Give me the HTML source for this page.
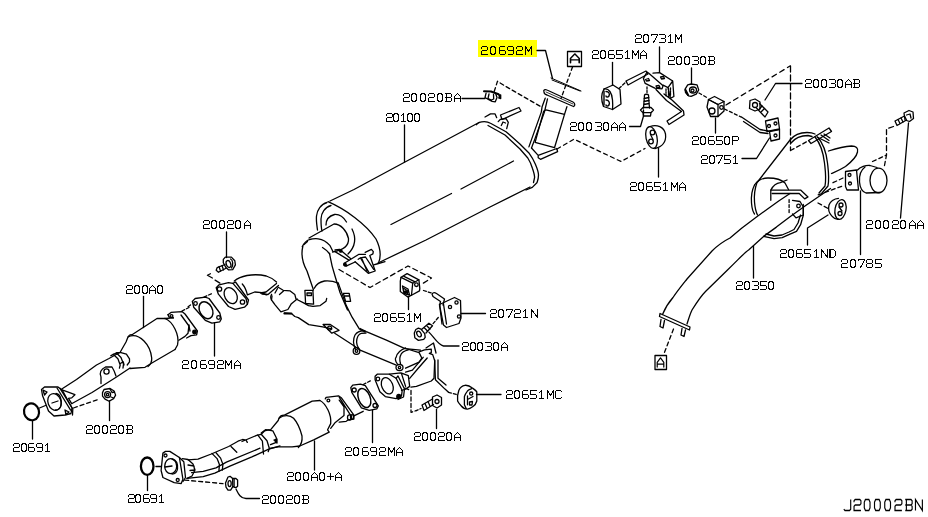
<!DOCTYPE html>
<html><head><meta charset="utf-8"><style>
html,body{margin:0;padding:0;background:#fff;}
svg{display:block;}
</style></head><body>
<svg width="928" height="517" viewBox="0 0 928 517">
<rect x="478" y="40" width="59" height="17" fill="#ffff00"/>
<g fill="none" stroke="#000" stroke-width="1" stroke-linejoin="miter" stroke-linecap="square" shape-rendering="crispEdges">
<path transform="translate(481.50,46.50) scale(1.000)" d="M0,2V1L1,0H5L6,1V3L5,4H1L0,5V8H6"/>
<path transform="translate(490.50,46.50) scale(1.000)" d="M1,0H4L5,2V6L4,8H1L0,6V2Z"/>
<path transform="translate(499.50,46.50) scale(1.000)" d="M5,0H1L0,1V7L1,8H5L6,7V5L5,4H0"/>
<path transform="translate(507.50,46.50) scale(1.000)" d="M6,4H1L0,3V1L1,0H5L6,1V7L5,8H1"/>
<path transform="translate(516.50,46.50) scale(1.000)" d="M0,2V1L1,0H5L6,1V3L5,4H1L0,5V8H6"/>
<path transform="translate(525.50,46.50) scale(1.000)" d="M0,8V0L3,5L6,0V8"/>
<path transform="translate(592.50,50.50) scale(1.000)" d="M0,2V1L1,0H5L6,1V3L5,4H1L0,5V8H6"/>
<path transform="translate(600.50,50.50) scale(1.000)" d="M1,0H4L5,2V6L4,8H1L0,6V2Z"/>
<path transform="translate(608.50,50.50) scale(1.000)" d="M5,0H1L0,1V7L1,8H5L6,7V5L5,4H0"/>
<path transform="translate(616.50,50.50) scale(1.000)" d="M6,0H0V4H5L6,5V7L5,8H0"/>
<path transform="translate(624.50,50.50) scale(1.000)" d="M1,2L3,0V8M1,8H5"/>
<path transform="translate(632.50,50.50) scale(1.000)" d="M0,8V0L3,5L6,0V8"/>
<path transform="translate(640.50,50.50) scale(1.000)" d="M0,8V3L3,0L6,3V8M0,5H6"/>
<path transform="translate(635.50,34.50) scale(1.000)" d="M0,2V1L1,0H5L6,1V3L5,4H1L0,5V8H6"/>
<path transform="translate(643.50,34.50) scale(1.000)" d="M1,0H4L5,2V6L4,8H1L0,6V2Z"/>
<path transform="translate(651.50,34.50) scale(1.000)" d="M0,1V0H6V1L2,8"/>
<path transform="translate(659.50,34.50) scale(1.000)" d="M0,0H5L6,1V3L5,4H2M5,4L6,5V7L5,8H0"/>
<path transform="translate(667.50,34.50) scale(1.000)" d="M1,2L3,0V8M1,8H5"/>
<path transform="translate(675.50,34.50) scale(1.000)" d="M0,8V0L3,5L6,0V8"/>
<path transform="translate(668.50,56.50) scale(1.000)" d="M0,2V1L1,0H5L6,1V3L5,4H1L0,5V8H6"/>
<path transform="translate(676.50,56.50) scale(1.000)" d="M1,0H4L5,2V6L4,8H1L0,6V2Z"/>
<path transform="translate(684.50,56.50) scale(1.000)" d="M1,0H4L5,2V6L4,8H1L0,6V2Z"/>
<path transform="translate(692.50,56.50) scale(1.000)" d="M0,0H5L6,1V3L5,4H2M5,4L6,5V7L5,8H0"/>
<path transform="translate(700.50,56.50) scale(1.000)" d="M1,0H4L5,2V6L4,8H1L0,6V2Z"/>
<path transform="translate(708.50,56.50) scale(1.000)" d="M0,0H5L6,1V3L5,4H0M5,4L6,5V7L5,8H0M1,0V8"/>
<path transform="translate(805.50,79.50) scale(1.000)" d="M0,2V1L1,0H5L6,1V3L5,4H1L0,5V8H6"/>
<path transform="translate(813.50,79.50) scale(1.000)" d="M1,0H4L5,2V6L4,8H1L0,6V2Z"/>
<path transform="translate(821.50,79.50) scale(1.000)" d="M1,0H4L5,2V6L4,8H1L0,6V2Z"/>
<path transform="translate(829.50,79.50) scale(1.000)" d="M0,0H5L6,1V3L5,4H2M5,4L6,5V7L5,8H0"/>
<path transform="translate(837.50,79.50) scale(1.000)" d="M1,0H4L5,2V6L4,8H1L0,6V2Z"/>
<path transform="translate(845.50,79.50) scale(1.000)" d="M0,8V3L3,0L6,3V8M0,5H6"/>
<path transform="translate(853.50,79.50) scale(1.000)" d="M0,0H5L6,1V3L5,4H0M5,4L6,5V7L5,8H0M1,0V8"/>
<path transform="translate(403.50,93.50) scale(1.000)" d="M0,2V1L1,0H5L6,1V3L5,4H1L0,5V8H6"/>
<path transform="translate(411.50,93.50) scale(1.000)" d="M1,0H4L5,2V6L4,8H1L0,6V2Z"/>
<path transform="translate(420.50,93.50) scale(1.000)" d="M1,0H4L5,2V6L4,8H1L0,6V2Z"/>
<path transform="translate(428.50,93.50) scale(1.000)" d="M0,2V1L1,0H5L6,1V3L5,4H1L0,5V8H6"/>
<path transform="translate(437.50,93.50) scale(1.000)" d="M1,0H4L5,2V6L4,8H1L0,6V2Z"/>
<path transform="translate(445.50,93.50) scale(1.000)" d="M0,0H5L6,1V3L5,4H0M5,4L6,5V7L5,8H0M1,0V8"/>
<path transform="translate(454.50,93.50) scale(1.000)" d="M0,8V3L3,0L6,3V8M0,5H6"/>
<path transform="translate(386.50,113.50) scale(1.000)" d="M0,2V1L1,0H5L6,1V3L5,4H1L0,5V8H6"/>
<path transform="translate(393.50,113.50) scale(1.000)" d="M1,0H4L5,2V6L4,8H1L0,6V2Z"/>
<path transform="translate(400.50,113.50) scale(1.000)" d="M1,2L3,0V8M1,8H5"/>
<path transform="translate(407.50,113.50) scale(1.000)" d="M1,0H4L5,2V6L4,8H1L0,6V2Z"/>
<path transform="translate(414.50,113.50) scale(1.000)" d="M1,0H4L5,2V6L4,8H1L0,6V2Z"/>
<path transform="translate(570.50,122.50) scale(1.000)" d="M0,2V1L1,0H5L6,1V3L5,4H1L0,5V8H6"/>
<path transform="translate(578.50,122.50) scale(1.000)" d="M1,0H4L5,2V6L4,8H1L0,6V2Z"/>
<path transform="translate(586.50,122.50) scale(1.000)" d="M1,0H4L5,2V6L4,8H1L0,6V2Z"/>
<path transform="translate(595.50,122.50) scale(1.000)" d="M0,0H5L6,1V3L5,4H2M5,4L6,5V7L5,8H0"/>
<path transform="translate(603.50,122.50) scale(1.000)" d="M1,0H4L5,2V6L4,8H1L0,6V2Z"/>
<path transform="translate(611.50,122.50) scale(1.000)" d="M0,8V3L3,0L6,3V8M0,5H6"/>
<path transform="translate(619.50,122.50) scale(1.000)" d="M0,8V3L3,0L6,3V8M0,5H6"/>
<path transform="translate(692.50,136.50) scale(1.000)" d="M0,2V1L1,0H5L6,1V3L5,4H1L0,5V8H6"/>
<path transform="translate(700.50,136.50) scale(1.000)" d="M1,0H4L5,2V6L4,8H1L0,6V2Z"/>
<path transform="translate(708.50,136.50) scale(1.000)" d="M5,0H1L0,1V7L1,8H5L6,7V5L5,4H0"/>
<path transform="translate(716.50,136.50) scale(1.000)" d="M6,0H0V4H5L6,5V7L5,8H0"/>
<path transform="translate(724.50,136.50) scale(1.000)" d="M1,0H4L5,2V6L4,8H1L0,6V2Z"/>
<path transform="translate(732.50,136.50) scale(1.000)" d="M0,8V0H5L6,1V3L5,4H0"/>
<path transform="translate(701.50,155.50) scale(1.000)" d="M0,2V1L1,0H5L6,1V3L5,4H1L0,5V8H6"/>
<path transform="translate(709.50,155.50) scale(1.000)" d="M1,0H4L5,2V6L4,8H1L0,6V2Z"/>
<path transform="translate(716.50,155.50) scale(1.000)" d="M0,1V0H6V1L2,8"/>
<path transform="translate(724.50,155.50) scale(1.000)" d="M6,0H0V4H5L6,5V7L5,8H0"/>
<path transform="translate(732.50,155.50) scale(1.000)" d="M1,2L3,0V8M1,8H5"/>
<path transform="translate(630.50,182.50) scale(1.000)" d="M0,2V1L1,0H5L6,1V3L5,4H1L0,5V8H6"/>
<path transform="translate(638.50,182.50) scale(1.000)" d="M1,0H4L5,2V6L4,8H1L0,6V2Z"/>
<path transform="translate(646.50,182.50) scale(1.000)" d="M5,0H1L0,1V7L1,8H5L6,7V5L5,4H0"/>
<path transform="translate(654.50,182.50) scale(1.000)" d="M6,0H0V4H5L6,5V7L5,8H0"/>
<path transform="translate(662.50,182.50) scale(1.000)" d="M1,2L3,0V8M1,8H5"/>
<path transform="translate(671.50,182.50) scale(1.000)" d="M0,8V0L3,5L6,0V8"/>
<path transform="translate(679.50,182.50) scale(1.000)" d="M0,8V3L3,0L6,3V8M0,5H6"/>
<path transform="translate(866.50,220.50) scale(1.000)" d="M0,2V1L1,0H5L6,1V3L5,4H1L0,5V8H6"/>
<path transform="translate(875.50,220.50) scale(1.000)" d="M1,0H4L5,2V6L4,8H1L0,6V2Z"/>
<path transform="translate(883.50,220.50) scale(1.000)" d="M1,0H4L5,2V6L4,8H1L0,6V2Z"/>
<path transform="translate(892.50,220.50) scale(1.000)" d="M0,2V1L1,0H5L6,1V3L5,4H1L0,5V8H6"/>
<path transform="translate(900.50,220.50) scale(1.000)" d="M1,0H4L5,2V6L4,8H1L0,6V2Z"/>
<path transform="translate(909.50,220.50) scale(1.000)" d="M0,8V3L3,0L6,3V8M0,5H6"/>
<path transform="translate(917.50,220.50) scale(1.000)" d="M0,8V3L3,0L6,3V8M0,5H6"/>
<path transform="translate(203.50,220.50) scale(1.000)" d="M0,2V1L1,0H5L6,1V3L5,4H1L0,5V8H6"/>
<path transform="translate(211.50,220.50) scale(1.000)" d="M1,0H4L5,2V6L4,8H1L0,6V2Z"/>
<path transform="translate(219.50,220.50) scale(1.000)" d="M1,0H4L5,2V6L4,8H1L0,6V2Z"/>
<path transform="translate(227.50,220.50) scale(1.000)" d="M0,2V1L1,0H5L6,1V3L5,4H1L0,5V8H6"/>
<path transform="translate(235.50,220.50) scale(1.000)" d="M1,0H4L5,2V6L4,8H1L0,6V2Z"/>
<path transform="translate(244.50,220.50) scale(1.000)" d="M0,8V3L3,0L6,3V8M0,5H6"/>
<path transform="translate(780.50,249.50) scale(1.000)" d="M0,2V1L1,0H5L6,1V3L5,4H1L0,5V8H6"/>
<path transform="translate(788.50,249.50) scale(1.000)" d="M1,0H4L5,2V6L4,8H1L0,6V2Z"/>
<path transform="translate(796.50,249.50) scale(1.000)" d="M5,0H1L0,1V7L1,8H5L6,7V5L5,4H0"/>
<path transform="translate(804.50,249.50) scale(1.000)" d="M6,0H0V4H5L6,5V7L5,8H0"/>
<path transform="translate(813.50,249.50) scale(1.000)" d="M1,2L3,0V8M1,8H5"/>
<path transform="translate(821.50,249.50) scale(1.000)" d="M0,8V0L6,8V0"/>
<path transform="translate(829.50,249.50) scale(1.000)" d="M0,0H4L6,2V6L4,8H0ZM1,0V8"/>
<path transform="translate(841.50,259.50) scale(1.000)" d="M0,2V1L1,0H5L6,1V3L5,4H1L0,5V8H6"/>
<path transform="translate(850.50,259.50) scale(1.000)" d="M1,0H4L5,2V6L4,8H1L0,6V2Z"/>
<path transform="translate(858.50,259.50) scale(1.000)" d="M0,1V0H6V1L2,8"/>
<path transform="translate(866.50,259.50) scale(1.000)" d="M1,0H5L6,1V3L5,4H1L0,3V1ZM1,4L0,5V7L1,8H5L6,7V5L5,4"/>
<path transform="translate(875.50,259.50) scale(1.000)" d="M6,0H0V4H5L6,5V7L5,8H0"/>
<path transform="translate(736.50,281.50) scale(1.000)" d="M0,2V1L1,0H5L6,1V3L5,4H1L0,5V8H6"/>
<path transform="translate(744.50,281.50) scale(1.000)" d="M1,0H4L5,2V6L4,8H1L0,6V2Z"/>
<path transform="translate(752.50,281.50) scale(1.000)" d="M0,0H5L6,1V3L5,4H2M5,4L6,5V7L5,8H0"/>
<path transform="translate(760.50,281.50) scale(1.000)" d="M6,0H0V4H5L6,5V7L5,8H0"/>
<path transform="translate(768.50,281.50) scale(1.000)" d="M1,0H4L5,2V6L4,8H1L0,6V2Z"/>
<path transform="translate(126.50,285.50) scale(1.000)" d="M0,2V1L1,0H5L6,1V3L5,4H1L0,5V8H6"/>
<path transform="translate(134.50,285.50) scale(1.000)" d="M1,0H4L5,2V6L4,8H1L0,6V2Z"/>
<path transform="translate(142.50,285.50) scale(1.000)" d="M1,0H4L5,2V6L4,8H1L0,6V2Z"/>
<path transform="translate(149.50,285.50) scale(1.000)" d="M0,8V3L3,0L6,3V8M0,5H6"/>
<path transform="translate(157.50,285.50) scale(1.000)" d="M1,0H4L5,2V6L4,8H1L0,6V2Z"/>
<path transform="translate(374.50,313.50) scale(1.000)" d="M0,2V1L1,0H5L6,1V3L5,4H1L0,5V8H6"/>
<path transform="translate(382.50,313.50) scale(1.000)" d="M1,0H4L5,2V6L4,8H1L0,6V2Z"/>
<path transform="translate(390.50,313.50) scale(1.000)" d="M5,0H1L0,1V7L1,8H5L6,7V5L5,4H0"/>
<path transform="translate(398.50,313.50) scale(1.000)" d="M6,0H0V4H5L6,5V7L5,8H0"/>
<path transform="translate(406.50,313.50) scale(1.000)" d="M1,2L3,0V8M1,8H5"/>
<path transform="translate(414.50,313.50) scale(1.000)" d="M0,8V0L3,5L6,0V8"/>
<path transform="translate(490.50,309.50) scale(1.000)" d="M0,2V1L1,0H5L6,1V3L5,4H1L0,5V8H6"/>
<path transform="translate(498.50,309.50) scale(1.000)" d="M1,0H4L5,2V6L4,8H1L0,6V2Z"/>
<path transform="translate(506.50,309.50) scale(1.000)" d="M0,1V0H6V1L2,8"/>
<path transform="translate(514.50,309.50) scale(1.000)" d="M0,2V1L1,0H5L6,1V3L5,4H1L0,5V8H6"/>
<path transform="translate(522.50,309.50) scale(1.000)" d="M1,2L3,0V8M1,8H5"/>
<path transform="translate(531.50,309.50) scale(1.000)" d="M0,8V0L6,8V0"/>
<path transform="translate(462.50,342.50) scale(1.000)" d="M0,2V1L1,0H5L6,1V3L5,4H1L0,5V8H6"/>
<path transform="translate(470.50,342.50) scale(1.000)" d="M1,0H4L5,2V6L4,8H1L0,6V2Z"/>
<path transform="translate(477.50,342.50) scale(1.000)" d="M1,0H4L5,2V6L4,8H1L0,6V2Z"/>
<path transform="translate(485.50,342.50) scale(1.000)" d="M0,0H5L6,1V3L5,4H2M5,4L6,5V7L5,8H0"/>
<path transform="translate(493.50,342.50) scale(1.000)" d="M1,0H4L5,2V6L4,8H1L0,6V2Z"/>
<path transform="translate(501.50,342.50) scale(1.000)" d="M0,8V3L3,0L6,3V8M0,5H6"/>
<path transform="translate(182.50,360.50) scale(1.000)" d="M0,2V1L1,0H5L6,1V3L5,4H1L0,5V8H6"/>
<path transform="translate(191.50,360.50) scale(1.000)" d="M1,0H4L5,2V6L4,8H1L0,6V2Z"/>
<path transform="translate(200.50,360.50) scale(1.000)" d="M5,0H1L0,1V7L1,8H5L6,7V5L5,4H0"/>
<path transform="translate(208.50,360.50) scale(1.000)" d="M6,4H1L0,3V1L1,0H5L6,1V7L5,8H1"/>
<path transform="translate(217.50,360.50) scale(1.000)" d="M0,2V1L1,0H5L6,1V3L5,4H1L0,5V8H6"/>
<path transform="translate(225.50,360.50) scale(1.000)" d="M0,8V0L3,5L6,0V8"/>
<path transform="translate(234.50,360.50) scale(1.000)" d="M0,8V3L3,0L6,3V8M0,5H6"/>
<path transform="translate(506.50,390.50) scale(1.000)" d="M0,2V1L1,0H5L6,1V3L5,4H1L0,5V8H6"/>
<path transform="translate(514.50,390.50) scale(1.000)" d="M1,0H4L5,2V6L4,8H1L0,6V2Z"/>
<path transform="translate(522.50,390.50) scale(1.000)" d="M5,0H1L0,1V7L1,8H5L6,7V5L5,4H0"/>
<path transform="translate(530.50,390.50) scale(1.000)" d="M6,0H0V4H5L6,5V7L5,8H0"/>
<path transform="translate(538.50,390.50) scale(1.000)" d="M1,2L3,0V8M1,8H5"/>
<path transform="translate(547.50,390.50) scale(1.000)" d="M0,8V0L3,5L6,0V8"/>
<path transform="translate(555.50,390.50) scale(1.000)" d="M6,1L5,0H1L0,1V7L1,8H5L6,7"/>
<path transform="translate(86.50,425.50) scale(1.000)" d="M0,2V1L1,0H5L6,1V3L5,4H1L0,5V8H6"/>
<path transform="translate(94.50,425.50) scale(1.000)" d="M1,0H4L5,2V6L4,8H1L0,6V2Z"/>
<path transform="translate(102.50,425.50) scale(1.000)" d="M1,0H4L5,2V6L4,8H1L0,6V2Z"/>
<path transform="translate(110.50,425.50) scale(1.000)" d="M0,2V1L1,0H5L6,1V3L5,4H1L0,5V8H6"/>
<path transform="translate(118.50,425.50) scale(1.000)" d="M1,0H4L5,2V6L4,8H1L0,6V2Z"/>
<path transform="translate(126.50,425.50) scale(1.000)" d="M0,0H5L6,1V3L5,4H0M5,4L6,5V7L5,8H0M1,0V8"/>
<path transform="translate(13.50,443.50) scale(1.000)" d="M0,2V1L1,0H5L6,1V3L5,4H1L0,5V8H6"/>
<path transform="translate(21.50,443.50) scale(1.000)" d="M1,0H4L5,2V6L4,8H1L0,6V2Z"/>
<path transform="translate(28.50,443.50) scale(1.000)" d="M5,0H1L0,1V7L1,8H5L6,7V5L5,4H0"/>
<path transform="translate(36.50,443.50) scale(1.000)" d="M6,4H1L0,3V1L1,0H5L6,1V7L5,8H1"/>
<path transform="translate(44.50,443.50) scale(1.000)" d="M1,2L3,0V8M1,8H5"/>
<path transform="translate(345.50,447.50) scale(1.000)" d="M0,2V1L1,0H5L6,1V3L5,4H1L0,5V8H6"/>
<path transform="translate(353.50,447.50) scale(1.000)" d="M1,0H4L5,2V6L4,8H1L0,6V2Z"/>
<path transform="translate(362.50,447.50) scale(1.000)" d="M5,0H1L0,1V7L1,8H5L6,7V5L5,4H0"/>
<path transform="translate(370.50,447.50) scale(1.000)" d="M6,4H1L0,3V1L1,0H5L6,1V7L5,8H1"/>
<path transform="translate(379.50,447.50) scale(1.000)" d="M0,2V1L1,0H5L6,1V3L5,4H1L0,5V8H6"/>
<path transform="translate(388.50,447.50) scale(1.000)" d="M0,8V0L3,5L6,0V8"/>
<path transform="translate(396.50,447.50) scale(1.000)" d="M0,8V3L3,0L6,3V8M0,5H6"/>
<path transform="translate(414.50,432.50) scale(1.000)" d="M0,2V1L1,0H5L6,1V3L5,4H1L0,5V8H6"/>
<path transform="translate(422.50,432.50) scale(1.000)" d="M1,0H4L5,2V6L4,8H1L0,6V2Z"/>
<path transform="translate(430.50,432.50) scale(1.000)" d="M1,0H4L5,2V6L4,8H1L0,6V2Z"/>
<path transform="translate(438.50,432.50) scale(1.000)" d="M0,2V1L1,0H5L6,1V3L5,4H1L0,5V8H6"/>
<path transform="translate(446.50,432.50) scale(1.000)" d="M1,0H4L5,2V6L4,8H1L0,6V2Z"/>
<path transform="translate(454.50,432.50) scale(1.000)" d="M0,8V3L3,0L6,3V8M0,5H6"/>
<path transform="translate(287.50,472.50) scale(1.000)" d="M0,2V1L1,0H5L6,1V3L5,4H1L0,5V8H6"/>
<path transform="translate(295.50,472.50) scale(1.000)" d="M1,0H4L5,2V6L4,8H1L0,6V2Z"/>
<path transform="translate(303.50,472.50) scale(1.000)" d="M1,0H4L5,2V6L4,8H1L0,6V2Z"/>
<path transform="translate(311.50,472.50) scale(1.000)" d="M0,8V3L3,0L6,3V8M0,5H6"/>
<path transform="translate(319.50,472.50) scale(1.000)" d="M1,0H4L5,2V6L4,8H1L0,6V2Z"/>
<path transform="translate(327.50,472.50) scale(1.000)" d="M0,4H6M3,1V7"/>
<path transform="translate(335.50,472.50) scale(1.000)" d="M0,8V3L3,0L6,3V8M0,5H6"/>
<path transform="translate(128.50,494.50) scale(1.000)" d="M0,2V1L1,0H5L6,1V3L5,4H1L0,5V8H6"/>
<path transform="translate(135.50,494.50) scale(1.000)" d="M1,0H4L5,2V6L4,8H1L0,6V2Z"/>
<path transform="translate(143.50,494.50) scale(1.000)" d="M5,0H1L0,1V7L1,8H5L6,7V5L5,4H0"/>
<path transform="translate(150.50,494.50) scale(1.000)" d="M6,4H1L0,3V1L1,0H5L6,1V7L5,8H1"/>
<path transform="translate(158.50,494.50) scale(1.000)" d="M1,2L3,0V8M1,8H5"/>
<path transform="translate(262.50,495.50) scale(1.000)" d="M0,2V1L1,0H5L6,1V3L5,4H1L0,5V8H6"/>
<path transform="translate(270.50,495.50) scale(1.000)" d="M1,0H4L5,2V6L4,8H1L0,6V2Z"/>
<path transform="translate(278.50,495.50) scale(1.000)" d="M1,0H4L5,2V6L4,8H1L0,6V2Z"/>
<path transform="translate(286.50,495.50) scale(1.000)" d="M0,2V1L1,0H5L6,1V3L5,4H1L0,5V8H6"/>
<path transform="translate(294.50,495.50) scale(1.000)" d="M1,0H4L5,2V6L4,8H1L0,6V2Z"/>
<path transform="translate(302.50,495.50) scale(1.000)" d="M0,0H5L6,1V3L5,4H0M5,4L6,5V7L5,8H0M1,0V8"/>
</g><g fill="none" stroke="#000" stroke-width="1"><path transform="translate(843.80,499.50) scale(1.15,1.375)" d="M6,0V7L5,8H1L0,7"/>
<path transform="translate(854.04,499.50) scale(1.15,1.375)" d="M0,2V1L1,0H5L6,1V3L5,4H1L0,5V8H6"/>
<path transform="translate(864.28,499.50) scale(1.15,1.375)" d="M1,0H4L5,2V6L4,8H1L0,6V2Z"/>
<path transform="translate(874.51,499.50) scale(1.15,1.375)" d="M1,0H4L5,2V6L4,8H1L0,6V2Z"/>
<path transform="translate(884.75,499.50) scale(1.15,1.375)" d="M1,0H4L5,2V6L4,8H1L0,6V2Z"/>
<path transform="translate(894.99,499.50) scale(1.15,1.375)" d="M0,2V1L1,0H5L6,1V3L5,4H1L0,5V8H6"/>
<path transform="translate(905.23,499.50) scale(1.15,1.375)" d="M0,0H5L6,1V3L5,4H0M5,4L6,5V7L5,8H0M1,0V8"/>
<path transform="translate(915.47,499.50) scale(1.15,1.375)" d="M0,8V0L6,8V0"/>
</g>
<g fill="none" stroke="#000" stroke-width="1.3" stroke-linecap="round" stroke-linejoin="round">
<!-- leaders -->
<path d="M537,50.5H545.5L552.5,78.5"/>
<path d="M612.5,62.5V85"/>
<path d="M659.5,47V72"/>
<path d="M691.5,68V84"/>
<path d="M802,83.5H775.5L765,100"/>
<path d="M462,98.5H485"/>
<path d="M404.5,125V162"/>
<path d="M629.5,126.5H640.5L643.5,116V110"/>
<path d="M715.5,118V133"/>
<path d="M742,158.5H756.5L769.5,138"/>
<path d="M658.5,148.5V177"/>
<path d="M908.5,123L900.5,218"/>
<path d="M226.5,232V257.5"/>
<path d="M807.5,245V228L828,215"/>
<path d="M860.5,191V254.5"/>
<path d="M753.5,246V278"/>
<path d="M143.5,296.5V327.5"/>
<path d="M408.5,297V309.5"/>
<path d="M461,313.5H485.5"/>
<path d="M428.9,332.1C434,337 438,345 443.5,346H459"/>
<path d="M214.5,323V356"/>
<path d="M476.5,394.5H501"/>
<path d="M109.5,401V420.5"/>
<path d="M32.5,420.5V439"/>
<path d="M372.5,410.5V442.5"/>
<path d="M436.5,409.5V428.5"/>
<path d="M314.5,441V470"/>
<path d="M147.5,475V490.5"/>
<path d="M236,489C238,493 240,498.5 246,498.5H259.5"/>
<!-- A boxes -->
<rect x="567.5" y="51.5" width="14" height="15"/>
<path transform="translate(570.5,53.8) scale(1.45,1.12)" d="M0,8V4L3,0L6,4V8M0,5.5H6" stroke-width="1.1"/>
<rect x="655" y="355.5" width="11.5" height="14"/>
<path transform="translate(657.2,357.8) scale(1.1,1.15)" d="M0,8V4L3,0L6,4V8M0,5.5H6" stroke-width="1.1"/>
<!-- main muffler 20100 -->
<path d="M330,201 L354,189.5 L405,162 L450,138 L479,122.5"/>
<path d="M378,263 L426,240 L490,207 L530,187"/>
<path d="M391,224.5 L451.5,193.5 M461,189 L513.5,161" />
<path d="M328,201.7 C345,209 366,224 376,239 C381,249 381,257 378.5,263"/>
<path d="M327,202.5 C321,204 317,210 316.5,216 C316,221 317,226 317.5,230"/>
<path d="M331,205.5 C325,207 321,213 321,219 C321,224 321,227 322,231"/>
<path d="M326,225 C326,220 329,216 334.5,214.5 C340,214 344,218 346.5,222"/>
<path d="M352,229 C356,237 356,246 348,254"/>
<path d="M309,238 L334,224 C341,224 347,231 348.5,238.5 C349,245 344,250 332.5,252"/>
<path d="M302.2,246.7 C304,243 306.5,240.5 309.5,239.5 C312,238.8 315,238.6 318.2,238.8 C323,239.5 327,242 329.8,245.3 L332.7,251"/>
<path d="M304,244.5 L307.5,241.5 M322.5,247.5 C325,249 327.5,251 329.8,254"/>
<path d="M302.8,246.5 C301,254 302,262 307,271 L313.5,290"/>
<path d="M329.5,253.5 C331,262 333,270 335,276 L340,292.5 L347.5,310"/>
<!-- muffler hanger -->
<path d="M344.3,263.2 L359,254.3 L365.5,254.3 M346.6,265.9 L355.1,262"/>
<path d="M344.3,263.2 C343.5,264.5 344.5,266.5 346.6,265.9"/>
<circle cx="345" cy="264.6" r="1.3" fill="#000"/>
<path d="M365.2,252.4 L371.4,249.3 L373.3,251.6 L372.9,253.9 L369.8,255.5 L375.2,271 L368.3,273.3 L355.1,261.7"/>
<path d="M358.2,259.3 L360.5,257.8 L369,272.5 M360.5,257.8 L365.5,257 L373.7,269.4 M362,259 L367,271"/>
<path d="M373.7,264.8 L376.8,264 L385,261.7"/>
<path d="M335,250 L339.6,249.3 L350.5,258.6 M335,251.6 L348.9,260.1"/>
<circle cx="340.8" cy="251" r="1.2" fill="#000"/>
<path d="M339,269.5 L370,287.5 L408,266 L431.5,278 L422,284" stroke-dasharray="5,3.5"/>
<!-- mount 20651M -->
<path d="M401,277.3 L407.1,273.6 L418.9,279.8 L412.7,283.2 Z M404,276.4 L414.6,281.6"/>
<path d="M401,277.3 L400.3,281 L400.3,291.5 L407.8,297.1 L411.5,295.2 L412.7,283.2"/>
<path d="M418.9,279.8 L419.8,288.4 L419.5,290.9 L411.5,295.2"/>
<path d="M402.5,286 L408,289 L409.5,295 L404,293.5 Z M404,288.5 L407,290.5 L407.5,293"/>
<circle cx="405.5" cy="292" r="1.2" fill="#000"/>
<circle cx="416.4" cy="284.7" r="1.8"/>
<path d="M423.5,290.5 L433,293.5" stroke-dasharray="3,2"/>
<!-- muffler outlet pipe, flange, gasket -->
<path d="M544,92 C543,90 545,89 547,90 L573,102 C575,103 575.5,106 573.5,106.5 L547,95 C545,94.5 544,93 544,92 Z" stroke-width="1.3"/>
<path d="M546,92 L573,104" stroke-width="0.8"/>
<path d="M551,78 L581,91 M552,80 L580,91" stroke-width="1"/>
<path d="M572.5,67 L561,98.5" stroke-dasharray="3.5,3"/>
<path d="M545.2,98.2 L542.1,106.7 L541.3,112.1 L528.9,146.9 M547.5,98.9 L544.4,112.1 L535.1,138.4 L531.5,148"/>
<path d="M566.9,106.7 L564.5,114.4 L554.5,147.7"/>
<path d="M546,109.8 L564.5,114.4 M543.6,111.3 L546,109.8 M543.6,111.3 L535.1,142.3 L554.5,147.7"/>
<path d="M538.2,155.4 L556.8,148.5 L557.6,151.6 L540.5,159.3 L538.2,157.8 Z M531.5,148 L538.2,155.4"/>
<path d="M476.5,124.7 C478,122.5 481,121.6 484.3,121.6 C487,121.6 489,122.3 490.5,123.2 L506,131.7 L519.9,144 L529.2,153.3 C532,157 534,161 535.4,164.2 C537,168 538.5,172 538.5,175 C538.5,179 537.5,181 536.9,182.8 L532.3,187.4 L526,190"/>
<path d="M488,125.5 L505,135 L520,149 L527.8,158 C530,161.5 531.5,165 532.5,168.5 C533.7,172 534.6,175 534.6,177.5 L533.5,182.5"/>
<path d="M485,117 L490.5,113.9 L495.1,113.9 L496.7,117.7 M498.2,121.6 L500.5,119.3 L506,118.5 L508.3,122.4 L506.7,128.6 M501.3,125.5 L503,122 L505.5,123"/>
<path d="M500.5,115 L519,107.5 L521,111 L502,119.5 Z"/>
<path d="M484,91.3 L491,91.5 L498.6,94.2" stroke-width="2"/>
<path d="M498.6,94.8 L500.7,95 L500.7,98.6 L498.6,98" fill="#000"/>
<path d="M486.1,93.2 L485,97.5 L488.8,99.7 L492.1,101.3 L495.3,101.8 L497,97.5 L495.9,94.2 M489,94 L488,98.5 L491.5,100 L493.7,99 L493.5,94.5"/>
<path d="M494.2,91.5 L497.5,81.2 L503.4,85 L541.5,107" stroke-dasharray="4,3"/>
<path d="M557,149 L574,139.2 L621,161.5 L645,148.5" stroke-dasharray="4,3.5"/>
<!-- top right hangers -->
<path d="M604,89 L613,85 L620,89.5 L621,104 L612.5,109.5 L603.5,106.5 C601,100 601,94 604,89 Z"/>
<path d="M604,89 C609,88 612,93 612.5,100 C613,106 612.5,109 612.5,109.5"/>
<path d="M604,91 L604,105 M606,91.5 C609,91.5 610,94 609,96 C608,97.5 606,97.5 606,96 M606,100 C609,100 610,103 609,105 C608,106.5 606,106.5 606,105" stroke-width="1.4"/>
<path d="M619,88.5 L626.5,81.5" stroke-dasharray="3,2"/>
<path d="M626,81 L646,71 L648,74 L628,85 Z"/>
<path d="M643.4,78.6 L647,72 L648.8,73.2 L663.1,85.8 L662,88.8 L654.8,88.2 L645.2,83.4 Z"/>
<path d="M645.5,79.5 L648.5,78.5 L649.5,80.5 L646.5,81 Z M656,86 L659,85.5 L660,87.5 L657,88 Z"/>
<path d="M653,73.2 L659.6,72.6 L672.7,81 L673.9,96.5 L670.3,98.3 L668,87.6 L663.1,85.2 M668,87.6 L672.7,81"/>
<path d="M660.5,77 L663.5,76.5 L664.5,78.5 L661.5,79 Z"/>
<path d="M666,89 V96 M668.5,88.5 V97 M670.5,88 V96" stroke-dasharray="1.6,1"/>
<path d="M656,89.5 L666.5,100.5 L681.5,111.5 L667,121 L669,124.5 L684,115 L683.5,111 L672,100 L664,94"/>
<path d="M647,87 V93" stroke-dasharray="2,1.5"/>
<path d="M644.5,95 C645,94 648,94 648.5,95 L649.5,108 M644.5,95 L643.5,108 M644,98.5 L649,97.5 M643.8,101.5 L649.2,100.5 M643.7,104.5 L649.3,103.5"/>
<path d="M640.5,110 L643,107.5 L651,107.5 L653.5,110 L651,112.7 L643,112.7 Z M643,112.7 L643.5,116 L650.5,116 L651,112.7"/>
<path d="M685.1,89.1 L687.7,84.8 L691.1,84 L697,84.8 L698.7,89.9 L696.2,94.2 L691.1,96.3 L688.5,95.9 L685.5,92.5 Z"/>
<ellipse cx="693" cy="90" rx="3.5" ry="3"/>
<circle cx="692.5" cy="90.5" r="1.5"/>
<path d="M685.5,90 L688,95" stroke-width="2"/>
<path d="M699,93 L708.5,98.5" stroke-dasharray="3,2.5"/>
<path d="M708.5,99.5 L714.5,96.5 L724,101.5 L718,104.5 Z"/>
<path d="M708.5,99.5 L718,104.5 L718,116.5 L710.5,116.5 L707,107 Z"/>
<path d="M724,101.5 L724,111 L718,116.5"/>
<circle cx="712" cy="111" r="3"/>
<circle cx="721.5" cy="107.5" r="1.8"/>
<path d="M726,105 L790,66" stroke-dasharray="5,4"/>
<path d="M790.5,66 V150.5" stroke-dasharray="6,3"/>
<path d="M724.5,109 L741,117" stroke-dasharray="3,2.5"/>
<path d="M741.5,117 L760,129.5 L768,131 M743.5,121.5 L760,132.5 L768,133.5"/>
<path d="M765.5,121 L778,118 L779.5,129 L767,131.5 Z"/>
<path d="M769.5,131.5 L779.5,129.5 L779.5,139 L771,141 Z"/>
<circle cx="769" cy="126" r="1.5"/>
<circle cx="775.5" cy="123.5" r="1.5"/>
<circle cx="775.5" cy="135.5" r="1.5"/>
<path d="M750,100.5 L755,99 L760,102 L760,109 L755,111 L749.5,108.5 Z"/>
<circle cx="755" cy="105" r="2.5"/>
<path d="M759.5,103.5 L768,112 L765,117 L756.5,108"/>
<path d="M762,106 L759.5,109 M764.5,108.5 L761.5,111.5" />
<path d="M650,126.5 C657,124 664,127 665.5,134 C666.5,142 662,147 655,148.5"/>
<ellipse cx="651.5" cy="137.5" rx="5.5" ry="11" transform="rotate(-12 651.5 137.5)"/>
<circle cx="652.5" cy="132.5" r="2.3"/>
<circle cx="651" cy="141.5" r="2.3"/>
<path d="M650.5,134.5 L653,139.5"/>
<!-- rear muffler -->
<path d="M757.5,182 L790,140 C794,135 800,132.5 807,132.5 C810,132.5 813,133 815,134"/>
<path d="M791,143 C795,138 801,135.5 808,135.5 L812,136.5"/>
<path d="M808.5,140.5 L829,128 L831.5,131.5 L811,143.5 Z"/>
<path d="M817,137 L829,143 M821,135 L829,140.5 M824,134 L830,138"/>
<path d="M817.5,137 C823,143 826,150 827.5,163 C828.5,172 829.5,178 828,186 L822,193"/>
<path d="M815,137 C820,143 823,150 824.5,163 C825.5,172 826.5,178 825,186 L819,193"/>
<path d="M828.5,151 C835,149 845,146.5 851.5,146 C856,146 858.5,148 857.5,152 C856.5,157 850,163 845.5,166.5 C840,170 835,172 831.5,173.5"/>
<path d="M790.5,150.5 L808,141" stroke-dasharray="4,3"/>
<path d="M754.5,185 C758,180 762,178 768,178 C775,178 782,180 785,183 L788.5,189.5"/>
<path d="M757,182.5 C755,188 754,195 754.5,202 C755,208 756,212 757.5,215"/>
<path d="M754.5,185 C752,190 751,197 751.5,203 C752,209 753,212 754.5,214"/>
<path d="M770.8,190.1 C773,186 777,183 780.3,182.7 L787,180 M770.8,190.1 V200.3"/>
<path d="M770.8,190.1 L800.6,190.1 L808,196.9 L804.7,198.9 L799.2,193.5 L772.2,193.5"/>
<path d="M789.1,199.6 V212.5" stroke-dasharray="3,2"/>
<path d="M792.5,200.3 L800,201.5 L803.3,207 L803.3,215 L796,217.9 L792.5,214"/>
<circle cx="798.5" cy="206" r="1.8"/>
<path d="M818.2,194.9 L842.5,186 M833,182.7 L843,178 M818,203 L828,208.4" stroke-dasharray="4,3"/>
<path d="M845.5,171.5 L856.5,170 L858.5,190 L847,190 L845.5,186.5 Z"/>
<circle cx="849.5" cy="175" r="1.5"/>
<circle cx="850" cy="183.5" r="1.5"/>
<path d="M857.5,170 C860,167 866,165 870,165.5 L877,167.5"/>
<path d="M865,167 C861,170 859,176 859.5,182 C860,188 863,192 866,193 L880,192.5"/>
<ellipse cx="878.5" cy="180.5" rx="8.5" ry="12.3"/>
<path d="M872.5,161.5 L886.5,155" stroke-dasharray="4,3"/>
<path d="M893.5,126.5 L886.5,129 V155 L884.5,165.5" stroke-dasharray="5,3"/>
<path d="M895,121 L904.5,116 L906.5,120 L897,125.5 Z"/>
<path d="M898,119.5 L900,123.5 M901,118 L903,122"/>
<path d="M904,113 L909,110.5 L913,112 L913.5,118.5 L909.5,121.5 L905,120 Z"/>
<path d="M906.5,115 L910,114 L911,118"/>
<!-- tailpipe 20350 -->
<path d="M662.5,314.5 C666,306 669,302 673,297.5 C678,290 683,284 687,279 L712,251 C719,244 724,241 730,238 L741.6,228.3 L755.5,217.8 L764.8,210.9 L778.7,201 L790,193.5"/>
<path d="M687,324 C689,318 690,314 692,310 C697,302 701,296 705.5,291.5 L727.5,270 C738,260 744,253 748.6,250 L763.6,236.4 L776.4,227.1 L790,216.7 L805,206 L830.5,188.5"/>
<path d="M660,313.5 L690,327 L689.5,330 L659.5,316.5 Z"/>
<path d="M661,319.5 L660,326.5 L663,328 L664.5,320.5 M682,328.5 L681,335 L684,336.5 L685.5,330"/>
<path d="M673.5,329 L663.5,355" stroke-dasharray="4,3"/>
<path d="M763.6,236.4 L774.1,238.7 L782.2,237.6 L790,234.1 L796.5,231.4 L800.6,224.7 L803.3,215.2 L803.3,204.4"/>
<path d="M766,234 L774,236 L782,235 L789,232 L794,229.5 L798,223 L800.5,215"/>
<!-- mount 20651ND -->
<path d="M838.5,198.3 C834,198.5 830,202 829,205 C828,209 829,213 831.7,215.9 C833.5,218 836,219.5 838.5,219.2"/>
<ellipse cx="840.5" cy="209.5" rx="5.5" ry="10" transform="rotate(10 840.5 209.5)"/>
<circle cx="841" cy="205" r="2"/>
<circle cx="840" cy="213.5" r="2"/>
<path d="M839,207 L842,211"/>
<!-- front pipe upper -->
<ellipse cx="31.5" cy="411.8" rx="7.5" ry="8.5" stroke-width="2.2" transform="rotate(-15 31.5 411.8)"/>
<path d="M39.5,408 L45.5,405.5"/>
<path d="M41.5,389.5 L44.5,387 L58,387 L62.5,390.5 L72,408 L71,413.5 L65,415 L54,416 L48.5,411 L42.5,395.5 Z"/>
<path d="M57,388 L70.6,410.1 M60,388.3 L72.8,409 L72.5,415"/>
<ellipse cx="54.5" cy="402" rx="6.5" ry="8.5" transform="rotate(-20 54.5 402)"/>
<path d="M56,393.5 C60,394 62,399 61,405 C60.5,408 58,410 55.5,410 M52,403 L58,401"/>
<path d="M43,390 L47,392 L44.5,395 Z"/>
<path d="M65,410 L69,412 L66,414.5 Z"/>
<path d="M61,389.5 L76.5,379.5 L96.5,365 L109,358.5 L117,354"/>
<path d="M72,403.5 L92,392.5 L116.5,377 L130,368"/>
<path d="M62.1,389.9 L69.6,392.6 L74.9,394.7 L71.7,397.9 L68.5,398.4 L71.7,403.7"/>
<path d="M73.5,408 L99.5,399" stroke-dasharray="4,3"/>
<path d="M102.5,392.6 L104,389.5 L110.1,388.5 L114.1,391 L115.6,395.1 L113.6,398.6 L109.1,401.3 L105,399.1 L102.5,396.1 Z"/>
<circle cx="107.6" cy="394.6" r="3"/>
<circle cx="107.6" cy="394.6" r="1.2"/>
<path d="M110,389 L112,392.5 L114.5,392 M111,397 L113.5,398"/>
<path d="M101,383.5 V377 C99,373 101,369 105.5,367 L112,367 C114,370 115,373 116,376"/>
<circle cx="106.5" cy="371.5" r="2.6"/>
<path d="M110.9,355.7 L117.1,352.6 L121,352.6 L126.4,354.2 L129.5,358.8 L129.5,361.9 L127.2,365"/>
<path d="M113.2,354.2 L117.9,358.8 L120.2,365 L119.4,368.1 M116.5,353 L121,357.5 L123.5,364 L123,368"/>
<path d="M120.2,363.5 L123.3,361.9 L124,365"/>
<!-- upper cat 200A0 -->
<path d="M117,354 L120,352.5 L126,342 L128,337 C129,335 131,334.5 132,334.8 L157,318.5 L165,318.5"/>
<path d="M128,337 C134,334 140,337 144,341 C148,345 151,351 151.7,358 C152,362 150,365 148,366.6"/>
<path d="M165,318.5 C169,320 172,323 175,329 C178,335 178.5,341 177.5,345 L175,349.5"/>
<path d="M175,349.5 L151,363.5 L145,367.3 L130,368.5"/>
<path d="M168,314.7 L171,312.4 L182,311.6 L185,314 L197.4,331 L196.6,334.8 L191,335.6 L186.6,338"/>
<path d="M168,314.7 L169,317 L173.4,317.8 M181,315 L189,326 L190,331"/>
<path d="M189,324.8 L188,333.3 L185,336.4 L178.8,340.2"/>
<path d="M173.4,317.8 L165,318.5"/>
<circle cx="171.5" cy="316" r="1.4"/>
<circle cx="194.5" cy="332" r="1.8" fill="#000"/>
<path d="M182,311 L189,307.5" stroke-dasharray="3,2"/>
<!-- gasket 20692MA upper -->
<path d="M192.3,301.4 L195.2,298.5 L205.3,297.1 L209,298.5 L219.8,313 L221.3,318.9 L219.8,321.8 L211.9,323.2 L205.3,320.3 L193.7,307.2 Z"/>
<ellipse cx="206" cy="310.2" rx="6.3" ry="9" transform="rotate(-28 206 310.2)" stroke-width="1.5"/>
<circle cx="195.5" cy="303.5" r="1.8"/>
<circle cx="218.5" cy="317.5" r="1.8"/>
<path d="M190.5,305 L187,307.5 M204,297 L212,293.5" stroke-dasharray="3,2"/>
<!-- flange Y inlet upper -->
<path d="M216.2,287.7 L219.1,284.8 L228.5,282.6 L232.9,283.3 L246,298.5 L247.4,304.3 L244.5,307.2 L235.1,309.4 L228.5,306.5 L218.4,294.2 Z"/>
<path d="M232.9,283.3 L235.5,282 L248.5,300 L247.4,304.3"/>
<ellipse cx="230.7" cy="295.6" rx="6" ry="8.5" transform="rotate(-28 230.7 295.6)" stroke-width="1.3"/>
<circle cx="219.5" cy="289" r="2.2"/>
<circle cx="242.5" cy="302" r="2.2"/>
<path d="M223.3,259.4 L225.3,257.1 L231.4,257.1 L234.8,260.8 L235.4,264.9 L232.7,269.6 L228.7,269.9 L226,267.6 L223.3,262.8 Z"/>
<ellipse cx="228.5" cy="264" rx="2.2" ry="3.6" transform="rotate(-20 228.5 264)"/>
<path d="M230.5,259 C233,260 233.5,265 231.5,268"/>
<path d="M225,264.5 L217.2,267.6 L216.2,270.3 L218.5,272.3 L226,268.2"/>
<path d="M219,266.5 L220.5,271 M222,265.5 L223.5,270"/>
<path d="M210.4,273.7 L207.4,275.3 L212.4,278 M215.1,280.1 L219.9,283.1"/>
<path d="M234.3,281 C238,278 242,276.5 247,275.5 C253,274.5 260,274.5 266.3,276 C271,277.5 274,279.5 276.5,282"/>
<path d="M242.3,284 C245,287 246.5,291 247.4,294.9 L254.7,292 L261.9,292.7 L266.3,294.9"/>
<path d="M276.5,283.5 L266,292 L260.5,293 M278.5,285.5 L268,294.5 L262,294"/>
<!-- flex + Y pipe -->
<path d="M277.4,286.8 L283.2,290.3 L290.2,290.9 L294.8,294.4 L296,299 L304.1,303.1 L308.5,305.6 L312.9,306.4 L320.2,305.6 L326,301.3 L326.7,298.4"/>
<path d="M271.6,294.4 C270,297 271,300 273,302 L275.1,304.8 L280.9,311.8 L287.9,309.5 L291.4,303.7 L297.2,299"/>
<path d="M277.5,288.5 L275,293 M283.5,291 L279.5,294.5 M272,296 L271.5,300"/>
<path d="M284.4,313.6 L291.4,313.6" stroke-width="2"/>
<path d="M314.3,288.2 C316,285 319,282 324.5,281 C329,280.5 333,281 338.3,283.1"/>
<path d="M304.9,290.4 L312.9,290.4 L313.6,304.2 L305.6,303.5 Z"/>
<path d="M307,293 L311.5,293 L311.5,295.5 L307,295.5 Z"/>
<path d="M343.4,293.3 L349.2,293.3 L350.6,301.3 L345.6,301.3 Z M345,296 L349,296"/>
<path d="M338.3,283.1 L346.3,305.6 L352.1,317.2 L359.3,328.9 L365,331.8"/>
<path d="M284.4,313 L291.4,313.6 L294.8,316.5 L298.3,317.6 L308.8,324.6 L322.7,326.9 L331.8,328.9"/>
<path d="M323.1,324.5 L330.3,324.5 L339,330.3 L331.8,333.2 Z"/>
<circle cx="329.6" cy="328.1" r="2"/>
<path d="M334.7,333.2 L354.7,346.3 L360.1,350.2 L395.7,364.9"/>
<path d="M360.1,328.5 L366.3,331.6 L386.4,340.1 L405,348.6 L420.5,350.2"/>
<path d="M355.5,349.4 C353,344 353,339 355,335 C357,332 360,330.5 364.8,330.8 M358.5,348 C356,344 356.5,339 358,336 C360,333 362,333 366,333"/>
<circle cx="356.5" cy="351" r="3.3"/>
<circle cx="356.5" cy="351" r="1.3"/>
<path d="M397.5,364.1 C395,361 395,358 396.1,357.3 C397,353 399,350.5 405.6,347.9 M400.5,363.5 C399.5,360 399.5,357 400.9,354.6 C402,352 404,351 408.3,349.9"/>
<ellipse cx="399.5" cy="367.5" rx="3.5" ry="3" />
<circle cx="399.5" cy="367.5" r="1.2"/>
<path d="M405.6,348.5 L419.1,352.6 L421.8,358 L419.1,362.1 L405.6,368.2"/>
<path d="M419.1,351.9 L424.5,349.9 L431.3,349.2 L431.3,352.6 L429.3,353.3 L432.7,354.6 L434.7,360.7 L434,378.3 L431.3,381 L416.4,386.4 L411,387.1"/>
<path d="M423.2,357.3 L412.4,370.2 L405.6,372.2 M427.2,358 L417.8,368.8 L409.7,378.3"/>
<path d="M389.4,374.2 L400.9,372.9 L408.3,375.6 L409.7,386.4 L405.6,389.1 L401.5,390.5 M401.5,373.6 L405.6,386.4"/>
<!-- flange Y outlet -->
<path d="M375.1,376.3 L377.2,374.2 L389.4,374.2 L396.1,378.3 L402.2,390.5 L401.5,395.9 L396.1,398.6 L385.3,396.6 L379.9,391.8 L375.1,379.7 Z"/>
<path d="M396.1,378.3 L398,376 L404.5,389 L403.5,397 L398,399.5"/>
<ellipse cx="387.3" cy="385.7" rx="5.5" ry="8.5" transform="rotate(-22 387.3 385.7)" stroke-width="1.3"/>
<circle cx="377.9" cy="379" r="1.8"/>
<circle cx="398.8" cy="396.4" r="2" fill="#000"/>
<path d="M426,348 L433.5,343 L436,353"/>
<path d="M434.7,360 L435.4,379.7 L445,389.1 L448.5,392.3 M438,360 L438,378.3 L446,385"/>
<path d="M448.5,392.3 L458,395" stroke-dasharray="3,2"/>
<!-- bolt 20030A + bracket 20721N -->
<path d="M414.3,333.1 L415.8,329.5 L418.4,328.2 L421,329.2 L424.7,333.7 L425.2,337.3 L423.7,339.4 L418.4,340.4 L414.8,337.8 Z"/>
<ellipse cx="419" cy="334" rx="2" ry="3" transform="rotate(-30 419 334)"/>
<path d="M421.5,329.5 L428.9,323.2 L432.5,325.8 L426,333"/>
<path d="M424.5,328 L427.5,331 M427,326 L430,329"/>
<path d="M433.1,323.6 L438.3,317.5" stroke-dasharray="3,2"/>
<path d="M432,294 C433,292.5 435,292.5 436.5,293.5 L444.5,299 L443,305 M432,294 L433,296.5 L440.5,301.5 L439.5,306"/>
<path d="M439.5,304.5 L454.5,297.5 L460.5,300.5 L461,318 L459,323.5 L446.5,327.5 L443.5,325 Z"/>
<path d="M439.5,304.5 L442,324 M443.5,304 L446.5,324"/>
<circle cx="450" cy="307" r="1.6"/>
<circle cx="456.5" cy="302.5" r="1.6"/>
<circle cx="459" cy="316.5" r="1.6"/>
<!-- lower cat -->
<path d="M270.5,429.8 L278.2,420.5 L279,418.2 C280,416 282,415 284.4,415.1 L312.2,401.2 L319.9,400.5"/>
<path d="M279,418.2 C284,414.5 290,415 293.6,418.2 C297,422 300,428 302,436 C302.5,441 301,445 298.3,447.6"/>
<path d="M319.9,400.5 C323,402 326,406 328,410 C330.5,415 331,420 330.7,423.6 L327.6,429.8 L329.2,432.1 L313.7,439.9 L299.8,446 L292.1,446.8 L278.2,446.8 L269.7,448.4"/>
<path d="M325.3,398.9 L326.1,397.4 L338.5,395.8 L341.6,398.1 L353.9,415.1 L353.9,419 L348.5,419.8 L346.2,421.3 L339.2,422.1"/>
<path d="M339.2,400.1 L344,406.9 L344,415.6 L335.3,422.4 L330.7,428.3 M339.2,397.2 L350.8,415.6"/>
<circle cx="328.4" cy="400.5" r="1.4"/>
<ellipse cx="349.5" cy="417.5" rx="2" ry="2.6"/>
<ellipse cx="352" cy="417" rx="1.5" ry="2.3"/>
<path d="M353.9,415.9 L363.2,411.3"/>
<path d="M274,440 L277,439 L277,443 Z" fill="#000"/>
<!-- lower front pipe -->
<ellipse cx="147.2" cy="466.2" rx="6.3" ry="8.7" stroke-width="2.3"/>
<path d="M155.9,466.5 L161.1,466.5"/>
<path d="M162.9,453.1 L165.5,451.4 L169.8,451.4 L179.4,457.5 L182.9,479.2 L181.2,483.6 L174.2,482.7 L162.9,477.5 L161.1,470.5 Z"/>
<path d="M179.4,457.5 L183.8,461.8 L185.5,477.5 L183,481.5"/>
<ellipse cx="170.7" cy="466.2" rx="6" ry="7.5"/>
<path d="M172,459 C176,460 178,464 177.5,469 C177,472 175,474 172,474 M165,467 L172,466"/>
<circle cx="165.5" cy="455.5" r="1.5"/>
<circle cx="177.7" cy="480" r="1.5"/>
<path d="M188.1,459.8 L198,459.2 L211.3,454 L228.7,446.5 L238,441.2 L242.6,439.5 L246.1,440.1 L247.3,442.4 M242,441.5 L256.6,435.4 L261.2,434.3 L264.7,430.8 L269.3,429.6"/>
<path d="M187,478.4 L203.2,476.6 L214.8,473.1 L229.9,466.2 L251.9,456.9 L268.2,449.4 L280,445.9"/>
<path d="M191.6,472.6 L203.2,471.4 L216,467.9 L226.4,462.1 L260,448.2"/>
<path d="M211.9,453.4 L217.1,458.6 L219.4,464.4 L218.9,471.4 M216,452.8 L220.6,458.1 L222.9,464.4 L222.3,470.2"/>
<path d="M257.7,434.9 L262.4,441.2 L263.5,454 M261.2,434.3 L267,440.7 L269.3,448.2 L268.2,451.7"/>
<path d="M231,446.5 L236.8,452.3"/>
<path d="M261.2,433.1 L265.8,429.6 L272.8,430.8 L276.3,437.8 L276.3,442.4 L270.5,444.7"/>
<path d="M182.3,458.6 L188,459.5 L193,464 L195,470 L192,476 L187,478.4 M188,465 L194,466 L194.5,470 L190,470.5"/>
<path d="M184.7,480.1 L223,483.6" stroke-dasharray="4,3"/>
<path d="M225.5,483.1 L228,477 L230.1,476.3 L232.6,478.5 L232.8,486.6 L230.6,490.1 L228,490.1 L226,487.1 Z"/>
<ellipse cx="229.6" cy="483.6" rx="1.6" ry="3"/>
<path d="M232.6,478.5 L235.6,478.3 L237.6,480 L237.6,486.3 L236.1,487.6 L232.8,486.6 M234.1,478.8 V487.3"/>
<!-- gasket 20692MA lower -->
<path d="M350.8,387.6 L352.7,385.2 L360.5,384.2 L365.3,385.6 L375.9,402.1 L378.3,405.9 L376.9,408.8 L369.2,410.3 L361.4,407.9 L351.8,392.4 Z"/>
<ellipse cx="364.3" cy="398" rx="5.8" ry="10" transform="rotate(-22 364.3 398)" stroke-width="1.5"/>
<circle cx="354.2" cy="390" r="2"/>
<circle cx="375" cy="405.5" r="2"/>
<path d="M363.2,384.5 L372,380" stroke-dasharray="3,2"/>
<!-- bolt 20020A lower, dashed bracket -->
<path d="M411,390.5 L411,412.3 L416.2,410.6 M405,388 L411,390.5" stroke-dasharray="4,2.5"/>
<path d="M432.5,397 L437,395 L441.5,397.5 L441.5,405 L437,408 L432.5,405.5 Z"/>
<circle cx="437" cy="401.5" r="2"/>
<path d="M432.5,399 L422,405 L424,410.5 L433.5,404.5"/>
<path d="M425,403.5 L427,408 M428,401.5 L430,406"/>
<path d="M416.2,410.6 L421,408.5" stroke-dasharray="2,2"/>
<!-- mount 20651MC -->
<path d="M457.6,395.5 L458.8,390.5 C460,387.5 462,385.6 465,385.3 C468,385 470.5,386.5 472.4,388 C474.5,389.5 476,390.5 476.8,391.8 L476.8,401 C476,404 474.5,405.5 473,406.6 C471,408 469,409 467.5,409.1 C464.5,409 462.5,407.5 461.3,406 C459,403.5 458,402 457.6,401 Z"/>
<path d="M471.8,388.7 C469,389.5 467.5,390.5 466.9,391.8 C465.5,393.5 464.8,395 464.4,396.7 L464.4,404.8 L466.2,408.5"/>
<path d="M467.5,396 V404.8 M467.5,399.5 L473,396.5"/>
<circle cx="471.2" cy="393.6" r="1.6"/>
<path d="M469.5,402 L472.5,401.5 L472,405 L469.5,405 Z"/>

</g>
</svg>
</body></html>
